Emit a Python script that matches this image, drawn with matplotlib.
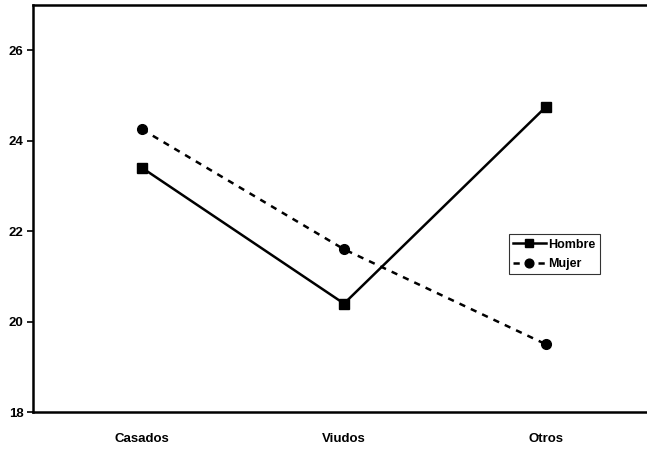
import matplotlib.pyplot as plt

plt.rcParams['font.family'] = ['Liberation Sans', 'DejaVu Sans']
plt.rcParams['font.weight'] = 'bold'

# Data
categorias = ['Casados', 'Viudos', 'Otros']
hombre = [23.4, 20.4, 24.75]
mujer = [24.25, 21.6, 19.5]
y_ticks = [18, 20, 22, 24, 26]

fig = plt.figure(figsize=(6.47, 4.5), dpi=100)
ax = fig.add_axes([0.051, 0.084, 0.949, 0.905])

x = range(1, len(categorias) + 1)
ax.plot(x, hombre, color='black', linewidth=1.8, marker='s', markersize=7, label='Hombre')
ax.plot(x, mujer, color='black', linewidth=1.8, linestyle=(0, (2.5, 2.5)), marker='o', markersize=7, label='Mujer')

ax.set_xlim(0.46, 3.5)
ax.set_ylim(18, 27)
ax.set_xticks(list(x))
ax.set_xticklabels(categorias, fontsize=9.5, fontweight='bold')
ax.set_yticks(y_ticks)
ax.set_yticklabels([str(t) for t in y_ticks], fontsize=9.5, fontweight='bold')
ax.tick_params(axis='x', length=0, pad=15)
ax.tick_params(axis='y', length=4, width=1.2, direction='out', pad=3)
for lbl in ax.get_xticklabels():
    lbl.set_x(lbl.get_position()[0])

for s in ['left', 'bottom', 'top']:
    ax.spines[s].set_linewidth(1.8)
ax.spines['right'].set_visible(False)

leg = ax.legend(loc='upper left', bbox_to_anchor=(0.775, 0.437), fontsize=9, frameon=True,
                fancybox=False, edgecolor='black', handlelength=2.6, handletextpad=0.2,
                borderpad=0.35, labelspacing=0.6, borderaxespad=0, markerscale=0.9)
leg.get_frame().set_linewidth(0.8)
for t in leg.get_texts():
    t.set_fontweight('bold')

plt.savefig('out.png', dpi=100)
